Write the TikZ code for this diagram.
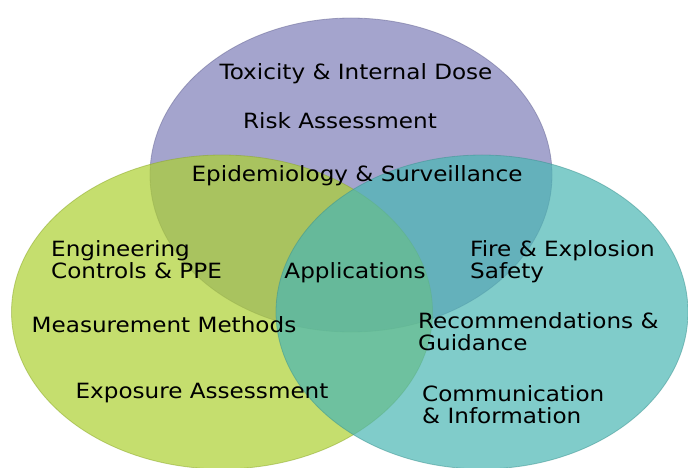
\documentclass[tikz,border=0pt]{standalone}
\usepackage{fontspec}
\setmainfont{DejaVu Sans}[FakeStretch=1.1]
\usepackage{tikz}
\usetikzlibrary{shapes.geometric, positioning}
\definecolor{healthbg}{RGB}{126,126,184}
\definecolor{exposebg}{RGB}{172,208,48}
\definecolor{riskbg}{RGB}{74,182,179}

\begin{document}
\begin{tikzpicture}[x=1pt, y=-1pt,
    set/.style={ellipse, minimum height=314pt,
                fill opacity=0.7, draw opacity=0.5, line width=0.8pt},
    lbl/.style={font=\fontsize{21}{22}\selectfont, align=left,
                inner sep=0pt, anchor=base}]
  \useasboundingbox (0,0) rectangle (688,468);
  % the three overlapping areas
  \node[set, minimum width=402pt, fill=healthbg, draw=healthbg!80!black]
    (health) at (351,175) {};
  \node[set, minimum width=421pt, fill=exposebg, draw=exposebg!80!black]
    (expose) at (222,312) {};
  \node[set, minimum width=412pt, fill=riskbg, draw=riskbg!80!black]
    (guide) at (482,312) {};

  % labels (multi-line ones sit on their last baseline)
  \node[lbl] (tox) at (356,80) {Toxicity \& Internal Dose};
  \node[lbl] (risk) at (340,129) {Risk Assessment};
  \node[lbl] (epi) at (357,182) {Epidemiology \& Surveillance};
  \node[lbl] (apps) at (355,278) {Applications};
  \node[lbl, anchor=base west] (eng) at (51,278) {Engineering\\Controls \& PPE};
  \node[lbl] (meas) at (164,332) {Measurement Methods};
  \node[lbl] (expo) at (202,398) {Exposure Assessment};
  \node[lbl, anchor=base west] (fire) at (470,278) {Fire \& Explosion\\Safety};
  \node[lbl, anchor=base west] (recs) at (418,350) {Recommendations \&\\Guidance};
  \node[lbl, anchor=base west] (comm) at (422,423) {Communication\\\& Information};
\end{tikzpicture}
\end{document}
